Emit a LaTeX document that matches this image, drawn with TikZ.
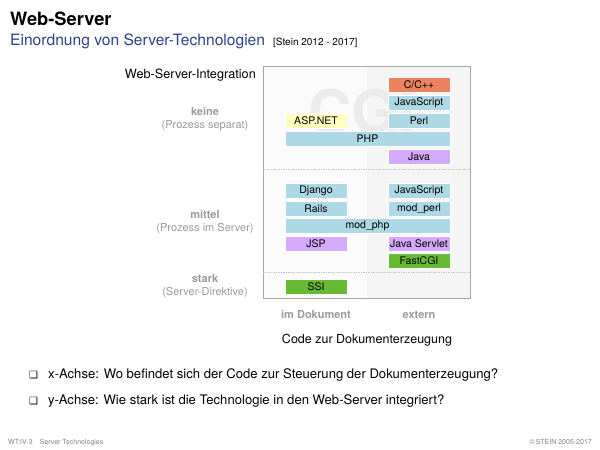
\documentclass[tikz,border=0pt]{standalone}
\usepackage{fontspec}
\setmainfont{TeX Gyre Heros}
\newfontfamily\symfont{DejaVu Sans}
\usetikzlibrary{positioning}

\definecolor{titleblue}{HTML}{2B3F8C}
\definecolor{labelgray}{HTML}{9A9A9A}
\definecolor{cblue}{HTML}{ADD8E6}
\definecolor{corange}{HTML}{EA835F}
\definecolor{cyellow}{HTML}{FFFFBF}
\definecolor{cpurple}{HTML}{D4AAFB}
\definecolor{cgreen}{HTML}{66BB33}

\tikzset{
  tech/.style={draw=white, line width=0.7pt, minimum width=62pt, minimum height=15pt,
    inner sep=0pt, font=\fontsize{10.5}{12}\selectfont},
  wide/.style={tech, minimum width=165pt},
  axislabel/.style={text=labelgray, font=\fontsize{11}{13}\selectfont, align=center},
  divider/.style={gray!45, line width=0.5pt, dash pattern=on 1.5pt off 1pt}
}

\begin{document}
\begin{tikzpicture}[x=1pt,y=-1pt]
\useasboundingbox (0,0) rectangle (600,450);

% title
\node[anchor=base west, inner sep=0pt, font=\bfseries\fontsize{18.3}{20}\selectfont] (title) at (10,25) {Web-Server};
\node[anchor=base west, inner sep=0pt, text=titleblue, font=\fontsize{15.6}{18}\selectfont] (subtitle) at (10,45) {Einordnung von Server-Technologien};
\node[anchor=base west, inner sep=0pt, font=\fontsize{10}{11}\selectfont] (cite) at (273,45) {[Stein 2012 - 2017]};

% frame
\coordinate (nw) at (263,66);
\coordinate (se) at (470,298);
\coordinate (mid) at (367,66);
\fill[black!1.5] (nw) rectangle (367,298);
\fill[black!4] (mid) rectangle (se);
\node[text=black!8, font=\bfseries\fontsize{60}{60}\selectfont] (cgi) at (362,112) {CGI};
\draw[gray!70, line width=0.6pt] (nw) rectangle (se);
\draw[divider] (263,169.5) -- (470,169.5);
\draw[divider] (263,272.5) -- (470,272.5);

\node[anchor=base east, inner sep=0pt, font=\fontsize{12.7}{14}\selectfont] (integr) at (256,78) {Web-Server-Integration};

% keine
\node[tech, fill=corange] (cpp) at (419,84.5) {C/C++};
\node[tech, fill=cblue] (jsa) at (419,102.5) {JavaScript};
\node[tech, fill=cyellow] (asp) at (316,120.5) {ASP.NET};
\node[tech, fill=cblue] (perl) at (419,120.5) {Perl};
\node[wide, fill=cblue] (php) at (367.5,138.5) {PHP};
\node[tech, fill=cpurple] (java) at (419,156.5) {Java};

% mittel
\node[tech, fill=cblue] (django) at (316,190.5) {Django};
\node[tech, fill=cblue] (jsb) at (419,190.5) {JavaScript};
\node[tech, fill=cblue] (rails) at (316,208.5) {Rails};
\node[tech, fill=cblue] (modperl) at (419,208.5) {mod\_perl};
\node[wide, fill=cblue] (modphp) at (367.5,226) {mod\_php};
\node[tech, fill=cpurple] (jsp) at (316,243.5) {JSP};
\node[tech, fill=cpurple] (servlet) at (419,243.5) {Java Servlet};
\node[tech, fill=cgreen] (fastcgi) at (419,261) {FastCGI};

% stark
\node[tech, fill=cgreen] (ssi) at (316,286.5) {SSI};

% y axis
\node[axislabel, anchor=base] (keine) at (205,115) {\textbf{keine}};
\node[axislabel, anchor=base] (keineb) at (205,128.5) {(Prozess separat)};
\node[axislabel, anchor=base] (mittel) at (205,218) {\textbf{mittel}};
\node[axislabel, anchor=base] (mittelb) at (205,231.5) {(Prozess im Server)};
\node[axislabel, anchor=base] (stark) at (205,282) {\textbf{stark}};
\node[axislabel, anchor=base] (starkb) at (205,295.5) {(Server-Direktive)};

% x axis
\node[axislabel, anchor=base] (imdok) at (316,318) {\textbf{im Dokument}};
\node[axislabel, anchor=base] (extern) at (419,318) {\textbf{extern}};
\node[anchor=base, inner sep=0pt, font=\fontsize{12.5}{14}\selectfont] (code) at (367,343) {Code zur Dokumenterzeugung};

% bullets
\node[anchor=base west, inner sep=0pt, font=\symfont\fontsize{10}{11}\selectfont] (b1) at (29,378) {❑};
\node[anchor=base west, inner sep=0pt, font=\fontsize{13.1}{15}\selectfont] (t1) at (48,378) {x-Achse: Wo befindet sich der Code zur Steuerung der Dokumenterzeugung?};
\node[anchor=base west, inner sep=0pt, font=\symfont\fontsize{10}{11}\selectfont] (b2) at (29,404) {❑};
\node[anchor=base west, inner sep=0pt, font=\fontsize{13.1}{15}\selectfont] (t2) at (48,404) {y-Achse: Wie stark ist die Technologie in den Web-Server integriert?};

% footer
\node[anchor=base west, inner sep=0pt, text=gray, font=\fontsize{7}{8}\selectfont] (foot) at (8,444) {WT:IV-3\hspace{7pt}Server Technologies};
\node[anchor=base east, inner sep=0pt, text=gray, font=\fontsize{7}{8}\selectfont] (copy) at (592,444) {©\,STEIN 2005-2017};

\end{tikzpicture}
\end{document}
